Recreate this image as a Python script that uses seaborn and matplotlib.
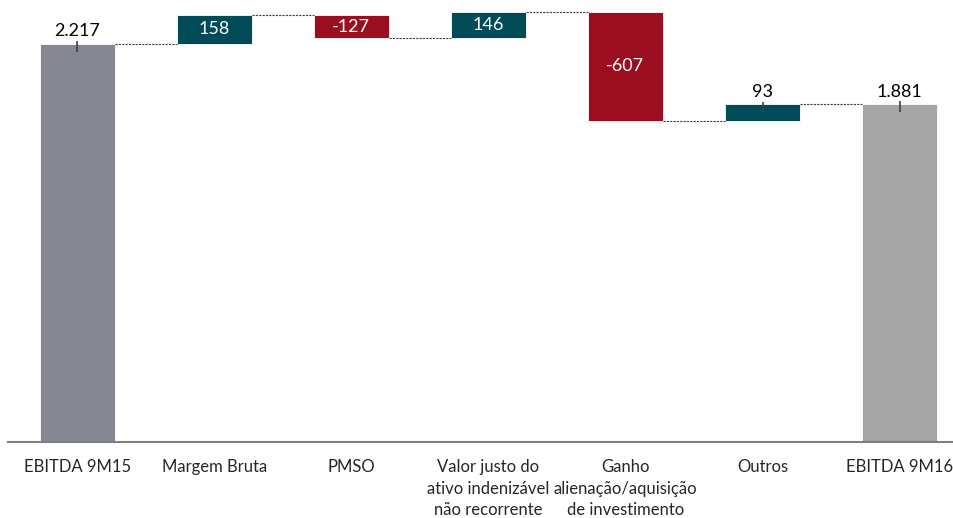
import matplotlib.pyplot as plt
import numpy as np
import pandas as pd
import seaborn as sns

# dados do gráfico (R$ milhões)
categorias = [
    "EBITDA 9M15",
    "Margem Bruta",
    "PMSO",
    "Valor justo do\nativo indenizável\nnão recorrente",
    "Ganho\nalienação/aquisição\nde investimento",
    "Outros",
    "EBITDA 9M16",
]
variacoes = [2217, 158, -127, 146, -607, 93, 1881]
tipos = ["total", "delta", "delta", "delta", "delta", "delta", "total"]
rotulos = ["2.217", "158", "-127", "146", "-607", "93", "1.881"]

cores_total = ["#858793", "#A5A5A5"]
cor_pos = "#004B57"
cor_neg = "#9B0E1F"

# base e altura de cada barra
base, altura, acumulado = [], [], 0
for v, t in zip(variacoes, tipos):
    if t == "total":
        base.append(0)
        altura.append(v)
        acumulado = v
    else:
        base.append(min(acumulado, acumulado + v))
        altura.append(abs(v))
        acumulado += v
df = pd.DataFrame({"categoria": categorias, "base": base, "altura": altura,
                   "valor": variacoes, "tipo": tipos, "rotulo": rotulos})
df["topo"] = df["base"] + df["altura"]

sns.set_theme(style="white")
plt.rcParams["font.family"] = ["Lato", "DejaVu Sans"]

fig = plt.figure(figsize=(9.54, 5.18), dpi=100)
ax = fig.add_axes([0.0084, 0.1467, 0.9906, 0.8533])

x = np.arange(len(df))
largura = 0.547
cores = []
for i, r in df.iterrows():
    if r["tipo"] == "total":
        cores.append(cores_total[0] if i == 0 else cores_total[1])
    else:
        cores.append(cor_pos if r["valor"] > 0 else cor_neg)

ax.bar(x, df["altura"], bottom=df["base"], width=largura, color=cores,
       edgecolor="white", linewidth=0.6)

# linhas conectoras
for i in range(len(df) - 1):
    if df.loc[i, "tipo"] == "total":
        nivel = df.loc[i, "topo"]
    else:
        nivel = df.loc[i, "topo"] if df.loc[i, "valor"] > 0 else df.loc[i, "base"]
    ax.plot([x[i] + largura / 2, x[i + 1] - largura / 2], [nivel, nivel],
            ls=(0, (2, 1)), color="#404040", lw=0.8)

# rótulos
for i, r in df.iterrows():
    externo = r["tipo"] == "total" or r["altura"] < 110
    if externo:
        ax.vlines(x[i], r["topo"] - 45, r["topo"] + 15, color="#404040", lw=1.2)
        ax.text(x[i], r["topo"] + 25, r["rotulo"], ha="center", va="bottom",
                fontsize=13, color="black")
    else:
        ax.text(x[i], r["base"] + r["altura"] / 2, r["rotulo"], ha="center",
                va="center", fontsize=13, color="white")

ax.set_xlim(-0.504, 6.39)
ax.set_ylim(0, 2460)
ax.set_xticks(x)
ax.set_xticklabels(df["categoria"], fontsize=12, linespacing=1.45)
ax.tick_params(axis="x", length=0, pad=12)
ax.set_yticks([])
sns.despine(ax=ax, left=True, top=True, right=True)
ax.spines["bottom"].set_color("#7F7F7F")
ax.spines["bottom"].set_linewidth(1.5)

fig.savefig("out.png", dpi=100)
